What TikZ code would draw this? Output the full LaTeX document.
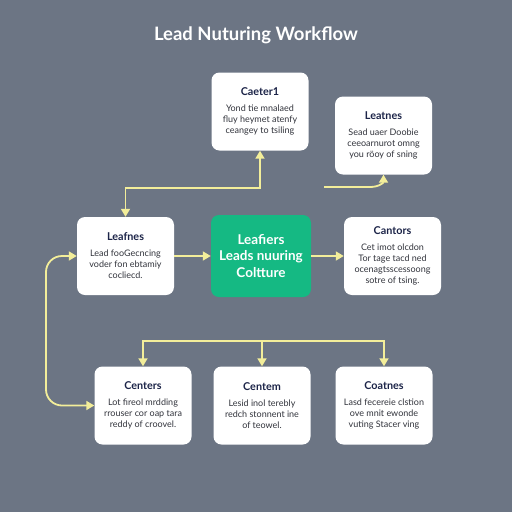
\documentclass[tikz,border=0pt]{standalone}
\usepackage{fontspec}
\setmainfont{Lato}
\usetikzlibrary{arrows.meta}

\definecolor{slategray}{RGB}{108,117,132}
\definecolor{leadgreen}{RGB}{21,185,131}
\definecolor{flowyellow}{RGB}{243,238,154}
\definecolor{inkblue}{RGB}{28,36,72}
\definecolor{bodygray}{RGB}{50,52,60}

\tikzset{
  card/.style={fill=white, rounded corners=8pt, minimum width=97pt, minimum height=78pt,
    align=center, inner sep=2pt, text=bodygray, font=\fontsize{9}{11}\selectfont},
  hub/.style={card, fill=leadgreen, minimum width=100pt, minimum height=82pt, text=white,
    font=\bfseries\fontsize{13.5}{16.5}\selectfont},
  flow/.style={draw=flowyellow, line width=1.8pt, ->},
  twoway/.style={flow, <->},
}
\newcommand{\cardhead}[1]{{\bfseries\color{inkblue}\fontsize{10.8}{11}\selectfont #1}\\[5pt]}

\begin{document}
\begin{tikzpicture}[x=1pt, y=-1pt, >={Triangle[length=8pt,width=9pt]}]
\fill[slategray] (0,0) rectangle (512,512);
\node[text=white, font=\bfseries\fontsize{18.5}{20}\selectfont] (title) at (256,35) {Lead Nuturing Workflow};

% top row
\node[card] (cater) at (260,111.5) {\cardhead{Caeter1}Yond tie mnalaed\\ fluy heymet atenfy\\ ceangey to tsiling};
\node[card] (leatnes) at (383.5,135.5) {\cardhead{Leatnes}Sead uaer Doobie\\ ceeoarnurot omng\\ you röoy of sning};

% middle row
\node[card] (leafnes) at (125.5,256) {\cardhead{Leafnes}Lead fooGecncing\\ voder fon ebtamiy\\ cocliecd.};
\node[hub] (hub) at (261,256) {Leafiers\\ Leads nuuring\\ Coltture};
\node[card] (cantors) at (392.5,256) {\cardhead{Cantors}Cet imot olcdon\\ Tor tage tacd ned\\ ocenagtsscessoong\\ sotre of tsing.};

% bottom row
\node[card] (centers) at (143,405.5) {\cardhead{Centers}Lot fireol mrdding\\ rrouser cor oap tara\\ reddy of croovel.};
\node[card] (centem) at (262,405.5) {\cardhead{Centem}Lesid inol terebly\\ redch stonnent ine\\ of teowel.};
\node[card] (coatnes) at (384,405.5) {\cardhead{Coatnes}Lasd fecereie clstion\\ ove mnit ewonde\\ vuting Stacer ving};

\coordinate (bend) at (0,188);
\coordinate (tail) at (324,187);
\coordinate (loop) at (46,0);
\coordinate (bar) at (0,341);

\draw[twoway] (leafnes.north) |- (cater.south |- bend) -- (cater.south);
\draw[flow] (tail) -- ++(46,0) .. controls +(9,0) and +(0,8) .. (leatnes.south);
\draw[flow] (leafnes.east) -- (hub.west);
\draw[flow] (hub.east) -- (cantors.west);
\draw[twoway, rounded corners=16pt] (leafnes.west) -| (loop |- centers.west) -- (centers.west);

\draw[flow] (centem.north |- bar) -| (centers.north);
\draw[flow] (centem.north |- bar) -| (coatnes.north);
\draw[flow] (centem.north |- bar) -- (centem.north);

\end{tikzpicture}
\end{document}
